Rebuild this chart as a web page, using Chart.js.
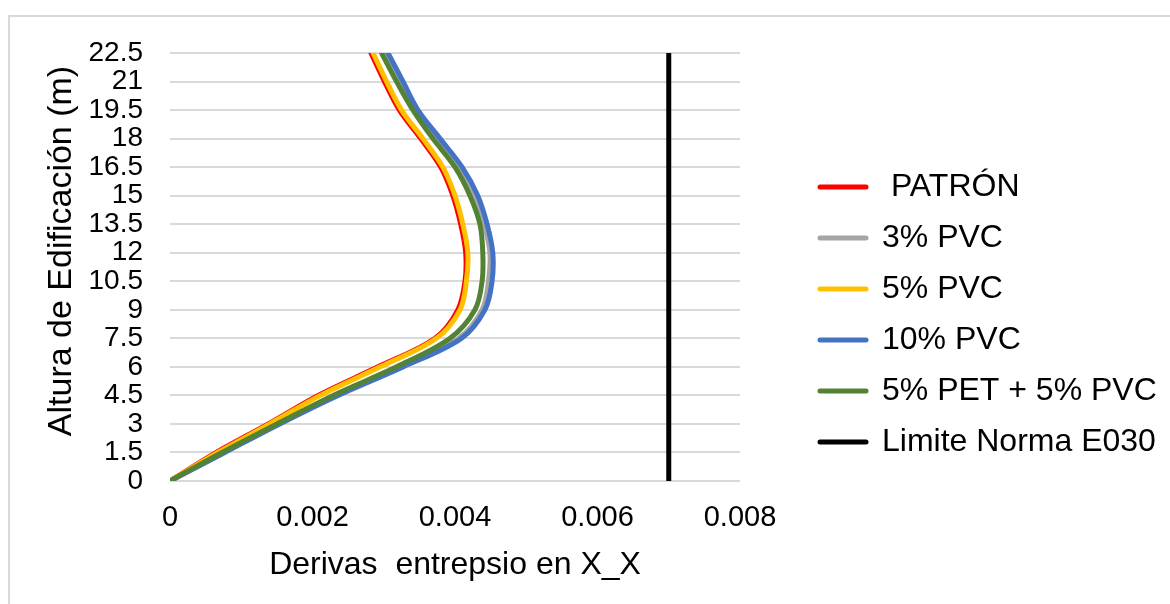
<!DOCTYPE html>
<html>
<head>
<meta charset="utf-8">
<script src="https://cdn.jsdelivr.net/npm/chart.js@4"></script>
<style>
  body { margin: 0; background: #fff; overflow: hidden; }
  #frame { position: absolute; left: 8px; top: 15px; width: 1200px; height: 700px; border: 2px solid #d9d9d9; }
  #wrap { position: absolute; left: 0; top: 0; width: 1170px; height: 604px; }
</style>
</head>
<body>
<div id="frame"></div>
<div id="wrap"><canvas id="chart"></canvas></div>
<script>
// Heights (m) where the drift values were read
const heights = [0, 1.5, 3, 4.5, 6, 7.5, 9, 10.5, 12, 13.5, 15, 16.5, 18, 19.5, 21, 22.5];

// Inter-storey drift per series, same order as heights
const patron   = [0, 0.00065, 0.00138, 0.00208, 0.00292, 0.00372, 0.00404, 0.00414, 0.00415, 0.00408, 0.00397, 0.00380, 0.00352, 0.00322, 0.00301, 0.00282];
const pvc3     = [0, 0.00075, 0.00152, 0.00232, 0.00323, 0.00405, 0.00438, 0.00447, 0.00449, 0.00441, 0.00428, 0.00406, 0.00375, 0.00344, 0.00323, 0.00302];
const pvc5     = [0, 0.00067, 0.00140, 0.00211, 0.00295, 0.00374, 0.00407, 0.00416, 0.00418, 0.00411, 0.00400, 0.00383, 0.00355, 0.00325, 0.00304, 0.00285];
const pvc10    = [0, 0.00077, 0.00154, 0.00236, 0.00327, 0.00409, 0.00442, 0.00452, 0.00453, 0.00445, 0.00432, 0.00410, 0.00379, 0.00348, 0.00327, 0.00306];
const pet5pvc5 = [0, 0.00073, 0.00150, 0.00229, 0.00318, 0.00393, 0.00428, 0.00438, 0.00439, 0.00435, 0.00421, 0.00400, 0.00369, 0.00341, 0.00318, 0.00297];

// Code limit (vertical line)
const limitX = [0.007, 0.007];
const limitY = [0, 22.5];

// Axis ticks
const xTicks = [0, 0.002, 0.004, 0.006, 0.008];
const xTickLabels = ['0', '0.002', '0.004', '0.006', '0.008'];
const yTicks = [0, 1.5, 3, 4.5, 6, 7.5, 9, 10.5, 12, 13.5, 15, 16.5, 18, 19.5, 21, 22.5];
const yTickLabels = ['0', '1.5', '3', '4.5', '6', '7.5', '9', '10.5', '12', '13.5', '15', '16.5', '18', '19.5', '21', '22.5'];

const yTitle = 'Altura de Edificación (m)';
const xTitle = 'Derivas  entrepsio en X_X';

const FONT = "'Liberation Sans', Arial, sans-serif";

function toPoints(xs, ys) {
    return xs.map((x, i) => ({ x: x, y: ys[i] }));
}

function series(label, values, color, order) {
    return {
        label: label,
        data: toPoints(values, heights),
        borderColor: color,
        backgroundColor: color,
        borderWidth: 5,
        borderCapStyle: 'round',
        borderJoinStyle: 'round',
        showLine: true,
        tension: 0.35,
        pointRadius: 0,
        pointHoverRadius: 0,
        order: order
    };
}

// Legend sits a bit away from the plot, like in the original
const legendPlacer = {
    id: 'legendPlacer',
    afterInit(chart) {
        const legend = chart.legend;
        const fit = legend.fit;
        legend.fit = function () {
            fit.call(this);
            this.width = 430;
        };
    },
    afterLayout(chart) {
        const legend = chart.legend;
        legend.left = 801;
        legend.right = 1170;
        legend.top = 0;
        legend.bottom = 629;
    }
};

// Y title is not centred on the plot in the original, so draw it by hand
const yTitlePlugin = {
    id: 'yTitle',
    afterDraw(chart) {
        const c = chart.ctx;
        c.save();
        c.translate(62, 251);
        c.rotate(-Math.PI / 2);
        c.font = '34px ' + FONT;
        c.fillStyle = '#000';
        c.textAlign = 'center';
        c.textBaseline = 'middle';
        c.fillText(yTitle, 0, 0);
        c.restore();
    }
};

const ctx = document.getElementById('chart').getContext('2d');

new Chart(ctx, {
    type: 'scatter',
    data: {
        datasets: [
            series(' PATRÓN', patron, '#ff0000', 6),
            series('3% PVC', pvc3, '#a5a5a5', 5),
            series('5% PVC', pvc5, '#ffc000', 4),
            series('10% PVC', pvc10, '#4472c4', 3),
            series('5% PET + 5% PVC', pet5pvc5, '#548235', 2),
            {
                label: 'Limite Norma E030',
                data: toPoints(limitX, limitY),
                borderColor: '#000000',
                backgroundColor: '#000000',
                borderWidth: 5,
                borderCapStyle: 'round',
                showLine: true,
                pointRadius: 0,
                pointHoverRadius: 0,
                order: 1
            }
        ]
    },
    options: {
        responsive: true,
        maintainAspectRatio: false,
        animation: false,
        layout: {
            padding: { top: 53, left: 0, right: 0, bottom: 0 }
        },
        plugins: {
            tooltip: { enabled: false },
            legend: {
                position: 'right',
                reverse: true,
                labels: {
                    usePointStyle: true,
                    pointStyle: 'line',
                    pointStyleWidth: 46,
                    padding: 19,
                    color: '#000',
                    font: { family: FONT, size: 32 },
                    generateLabels(chart) {
                        const items = Chart.defaults.plugins.legend.labels.generateLabels(chart);
                        items.forEach(item => {
                            const ds = chart.data.datasets[item.datasetIndex];
                            item.strokeStyle = ds.borderColor;
                            item.fillStyle = ds.borderColor;
                            item.lineWidth = 5;
                            item.lineCap = 'round';
                            item.pointStyle = 'line';
                        });
                        return items;
                    }
                }
            }
        },
        scales: {
            x: {
                type: 'linear',
                min: 0,
                max: 0.008,
                afterBuildTicks: axis => {
                    axis.ticks = xTicks.map(v => ({ value: v }));
                },
                afterFit: scale => {
                    scale.height = 123;
                },
                grid: { display: false, drawTicks: false },
                border: { display: false },
                ticks: {
                    autoSkip: false,
                    maxRotation: 0,
                    padding: 20,
                    color: '#000',
                    font: { family: FONT, size: 29 },
                    callback: (value, index) => xTickLabels[index]
                },
                title: {
                    display: true,
                    text: xTitle,
                    color: '#000',
                    font: { family: FONT, size: 32 },
                    padding: { top: 0, bottom: 20 }
                }
            },
            y: {
                type: 'linear',
                min: 0,
                max: 22.5,
                afterBuildTicks: axis => {
                    axis.ticks = yTicks.map(v => ({ value: v }));
                },
                afterFit: scale => {
                    scale.width = 170;
                },
                grid: { color: '#d9d9d9', lineWidth: 2, drawTicks: false },
                border: { display: false },
                ticks: {
                    autoSkip: false,
                    padding: 27,
                    color: '#000',
                    font: { family: FONT, size: 28 },
                    callback: (value, index) => yTickLabels[index]
                },
                title: { display: false }
            }
        }
    },
    plugins: [legendPlacer, yTitlePlugin]
});
</script>
</body>
</html>
